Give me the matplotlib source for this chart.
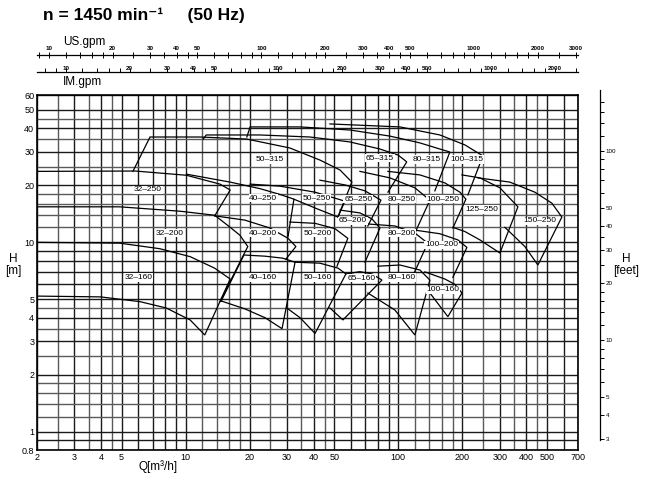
import matplotlib
matplotlib.use("Agg")
import matplotlib.pyplot as plt
from matplotlib.ticker import FixedLocator, FixedFormatter, NullLocator, NullFormatter

plt.rcParams["font.family"] = ["Liberation Sans", "DejaVu Sans"]

# conversion factors
USGPM = 4.403
IMGPM = 3.666
FEET = 3.281

Q_LIM = (2, 700)
H_LIM = (0.8, 60)

# grid ladder inside one decade
GRID_STEPS = [1, 1.2, 1.4, 1.6, 1.8, 2, 2.5, 3, 3.5, 4, 4.5, 5, 6, 7, 8, 9]

Q_TICKS = [2, 3, 4, 5, 10, 20, 30, 40, 50, 100, 200, 300, 400, 500, 700]
H_TICKS = [0.8, 1, 2, 3, 4, 5, 10, 20, 30, 40, 50, 60]
US_LABELS = [10, 20, 30, 40, 50, 100, 200, 300, 400, 500, 1000, 2000, 3000]
IM_LABELS = [10, 20, 30, 40, 50, 100, 200, 300, 400, 500, 1000, 2000]
FT_LABELS = [3, 4, 5, 10, 20, 30, 40, 50, 100]
FT_MINOR = [6, 7, 8, 9, 12, 14, 16, 18, 25, 35, 60, 70, 80, 90, 120, 140, 160, 180, 200]

# pump field outlines (max impeller curve, right limit, min impeller curve), Q m3/h, H m
PUMPS = ["32-160", "32-200", "32-250", "40-160", "40-200", "40-250",
         "50-160", "50-200", "50-250", "50-315", "65-160", "80-160",
         "100-160", "65-200", "80-200", "100-200", "65-250", "80-250",
         "100-250", "65-315", "80-315", "100-315", "125-250", "150-250"]
OUTLINE_Q = [
    [2, 4.9, 7.57, 10.5, 13.7, 16.2, 12.3, 10.5, 8.1, 6.1, 3.98, 2],
    [2, 4.9, 9.41, 13.7, 16.2, 18.0, 19.6, 14.5],
    [2, 5.8, 10.1, 14.5, 16.2, 13.7],
    [14.7, 18.8, 23.6, 28.6, 32.7, 28.4, 23.6, 19.0, 14.7],
    [13.7, 19.0, 24.9, 30.3, 33.0, 29.6],
    [10.1, 16.2, 22.4, 27.8, 32.3, 30.3],
    [32.7, 42.8, 52.0, 56.7, 40.6, 34.5, 29.9],
    [30.9, 40.6, 50.4, 57.9, 51.5],
    [20.1, 27.8, 40.6, 56.1, 52.0, 42.0, 32.3],
    [5.65, 6.8, 11.7, 19.4, 30.9, 42.8, 53.2, 60.5, 52.0],
    [56.7, 66.0, 75.2, 83.8, 54.9, 47.7],
    [80.2, 101.8, 126.4, 140.8, 119.7, 96.4, 71.9],
    [133.4, 165.6, 184.5, 199.2, 171.1, 140.8],
    [53.2, 66.0, 75.2, 82.0, 69.7],
    [71.9, 96.4, 119.7, 137.5, 116.9],
    [119.7, 156.9, 190.6, 210.2, 180.6],
    [42.8, 56.1, 69.7, 82.9, 71.9],
    [66.0, 91.3, 119.7, 140.8, 119.7],
    [89.4, 126.4, 165.6, 194.9, 207.9, 180.6],
    [12.1, 12.5, 22.4, 38.4, 59.2, 82.0, 99.8, 109.6, 89.4],
    [19.4, 20.1, 34.5, 59.2, 91.3, 126.4, 156.9, 174.8, 148.6],
    [47.7, 101.8, 156.9, 205.7, 250.0, 212.5],
    [199.2, 242.0, 300.5, 365.2, 300.5, 242.0, 205.7, 180.6],
    [236.8, 334.8, 438.8, 527.6, 587.8, 453.4, 393.8, 317.2],
]
OUTLINE_H = [
    [10.0, 9.9, 9.25, 8.4, 7.3, 6.4, 3.24, 3.89, 4.5, 4.86, 5.15, 5.2],
    [15.4, 15.4, 14.6, 13.9, 12.0, 10.9, 9.5, 4.86],
    [23.7, 23.8, 22.6, 20.3, 18.9, 13.8],
    [4.9, 8.57, 8.45, 8.25, 7.85, 3.5, 4.0, 4.45, 4.9],
    [13.8, 13.1, 11.9, 10.5, 9.5, 8.15],
    [22.9, 20.8, 19.2, 17.9, 16.9, 10.7],
    [7.85, 7.76, 7.31, 6.81, 3.3, 4.0, 4.5],
    [12.8, 12.6, 11.8, 10.5, 7.48],
    [20.3, 19.8, 18.4, 16.5, 13.6, 14.95, 16.9],
    [23.7, 36.0, 36.0, 35.1, 31.5, 27.2, 24.1, 20.8, 13.6],
    [6.81, 7.0, 6.81, 6.32, 3.89, 4.5],
    [7.48, 7.59, 7.14, 6.32, 3.24, 4.39, 5.4],
    [6.98, 6.4, 6.0, 5.4, 4.05, 5.4],
    [14.8, 14.3, 13.3, 11.9, 7.85],
    [12.5, 12.2, 11.2, 9.9, 6.62],
    [11.6, 11.1, 10.3, 9.4, 6.53],
    [21.3, 20.1, 18.7, 16.7, 12.2],
    [23.7, 21.9, 19.4, 16.7, 11.2],
    [23.7, 22.7, 20.6, 18.4, 16.9, 11.9],
    [35.1, 36.9, 36.9, 36.0, 33.9, 31.1, 28.9, 26.6, 18.4],
    [36.0, 40.7, 40.7, 39.2, 36.4, 33.5, 31.1, 30.0, 18.7],
    [42.2, 40.7, 36.9, 32.7, 28.6, 17.8],
    [22.7, 21.9, 19.4, 15.4, 8.78, 10.3, 11.4, 12.0],
    [21.9, 20.8, 18.4, 16.1, 13.6, 7.59, 9.5, 12.0],
]

LABELS = ["32-250", "50-315", "65-315", "80-315", "100-315",
          "40-250", "50-250", "65-250", "80-250", "100-250", "125-250", "150-250",
          "65-200", "32-200", "40-200", "50-200", "80-200", "100-200",
          "32-160", "40-160", "50-160", "65-160", "80-160", "100-160"]
LABEL_Q = [6.65, 24.9, 82.0, 135.9, 209.6,
           23.2, 41.3, 64.8, 103.7, 162.6, 246.4, 463,
           61.2, 8.44, 23.2, 42.0, 103.7, 159.9,
           5.99, 23.2, 42.0, 67.2, 103.7, 162.6]
LABEL_H = [18.9, 27.4, 27.8, 27.4, 27.4,
           17.1, 17.1, 16.9, 16.9, 16.9, 14.9, 13.0,
           13.0, 11.2, 11.2, 11.2, 11.2, 9.68,
           6.53, 6.53, 6.53, 6.46, 6.53, 5.60]


def grid_values(lo, hi):
    vals = []
    dec = 0.1
    while dec <= hi:
        for s in GRID_STEPS:
            v = round(s * dec, 6)
            if lo <= v <= hi:
                vals.append((v, float(s).is_integer()))
        dec *= 10
    return vals


W, H = 645, 482
fig = plt.figure(figsize=(W / 100, H / 100), dpi=100)
fig.patch.set_facecolor("white")

L, R, T, B = 37, 578, 95, 450
ax = fig.add_axes([L / W, 1 - B / H, (R - L) / W, (B - T) / H])
ax.set_xscale("log")
ax.set_yscale("log")
ax.set_xlim(*Q_LIM)
ax.set_ylim(*H_LIM)

for v, major in grid_values(*Q_LIM):
    ax.axvline(v, color="#1a1a1a" if major else "#5a5a5a", lw=1.0, zorder=1)
for v, major in grid_values(*H_LIM):
    ax.axhline(v, color="#1a1a1a" if major else "#5a5a5a", lw=1.0, zorder=1)

ax.xaxis.set_major_locator(FixedLocator(Q_TICKS))
ax.xaxis.set_major_formatter(FixedFormatter([f"{t:g}" for t in Q_TICKS]))
ax.xaxis.set_minor_locator(NullLocator())
ax.yaxis.set_major_locator(FixedLocator(H_TICKS))
ax.yaxis.set_major_formatter(FixedFormatter([f"{t:g}" for t in H_TICKS]))
ax.yaxis.set_minor_locator(NullLocator())
ax.tick_params(length=0, labelsize=6.5, pad=2)
for s in ax.spines.values():
    s.set_linewidth(1.2)

for q, h in zip(OUTLINE_Q, OUTLINE_H):
    ax.plot(q, h, color="black", lw=0.9, zorder=3, solid_joinstyle="miter")

for name, q, h in zip(LABELS, LABEL_Q, LABEL_H):
    ax.text(q, h, name.replace("-", "\u2013"), fontsize=6, ha="center", va="center",
            zorder=4, bbox=dict(facecolor="white", edgecolor="none", pad=0.5))


# top flow scales
def flow_scale(y_px, factor, labels, direction, length):
    a = fig.add_axes([L / W, 1 - y_px / H, (R - L) / W, 0.0001])
    a.set_xscale("log")
    a.set_xlim(Q_LIM[0] * factor, Q_LIM[1] * factor)
    a.set_yticks([])
    for k in ("top", "left", "right"):
        a.spines[k].set_visible(False)
    a.spines["bottom"].set_linewidth(0.9)
    minor = [v for v, _ in grid_values(Q_LIM[0] * factor, Q_LIM[1] * factor)
             if v not in labels]
    a.xaxis.set_major_locator(FixedLocator(labels))
    a.xaxis.set_major_formatter(FixedFormatter([str(t) for t in labels]))
    a.xaxis.set_minor_locator(FixedLocator(minor))
    a.xaxis.set_minor_formatter(NullFormatter())
    a.tick_params(axis="x", which="both", bottom=True, top=False,
                  labelbottom=False, labeltop=True, direction=direction,
                  length=length, width=0.7, labelsize=4.5, pad=1)
    for t in a.get_xticklabels():
        t.set_fontweight("bold")
    return a


flow_scale(55, USGPM, US_LABELS, "inout", 4)
flow_scale(72, IMGPM, IM_LABELS, "in", 3)
fig.text(63 / W, 1 - 42 / H, "US.gpm", fontsize=8.5, va="center")
fig.text(63 / W, 1 - 82 / H, "IM.gpm", fontsize=8.5, va="center")

# feet scale on the right
af = fig.add_axes([600 / W, 1 - B / H, 0.0001, (B - T) / H])
af.set_yscale("log")
af.set_ylim(H_LIM[0] * FEET, H_LIM[1] * FEET)
af.set_xticks([])
for k in ("top", "bottom", "right"):
    af.spines[k].set_visible(False)
af.spines["left"].set_linewidth(0.9)
af.spines["left"].set_bounds(2.95, 210)
af.yaxis.set_major_locator(FixedLocator(FT_LABELS))
af.yaxis.set_major_formatter(FixedFormatter([str(t) for t in FT_LABELS]))
af.yaxis.set_minor_locator(FixedLocator(FT_MINOR))
af.yaxis.set_minor_formatter(NullFormatter())
af.tick_params(axis="y", which="both", left=False, right=True, labelleft=False,
               labelright=True, direction="out", length=3, width=0.7,
               labelsize=4.5, pad=1)

fig.text(13 / W, 1 - 265 / H, "H\n[m]", fontsize=8.5, ha="center", va="center",
         linespacing=1.1)
fig.text(626 / W, 1 - 265 / H, "H\n[feet]", fontsize=8.5, ha="center", va="center",
         linespacing=1.1)
fig.text(158 / W, 1 - 467 / H, "Q[m\u00b3/h]", fontsize=8.5, ha="center", va="center")
fig.text(43 / W, 1 - 15 / H, "n = 1450 min\u207b\u00b9     (50 Hz)", fontsize=12.5,
         fontweight="bold", va="center")

fig.savefig("out.png", dpi=100, facecolor="white")
